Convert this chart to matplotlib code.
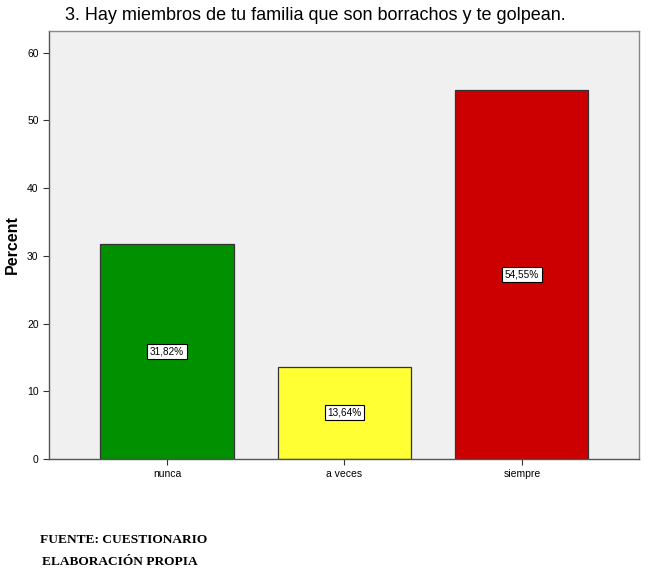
import matplotlib
matplotlib.use("Agg")
import matplotlib.pyplot as plt

categories = ["nunca", "a veces", "siempre"]
values = [31.82, 13.64, 54.55]
labels = ["31,82%", "13,64%", "54,55%"]
colors = ["#009000", "#FFFF33", "#CC0000"]
yticks = [0, 10, 20, 30, 40, 50, 60]

W, H = 650, 579
fig = plt.figure(figsize=(W / 100, H / 100), dpi=100)
ax = fig.add_axes([49 / W, 1 - 459 / H, (639 - 49) / W, (459 - 31) / H])
ax.set_facecolor("#F0F0F0")

x = list(range(len(categories)))
ax.bar(x, values, width=0.75, color=colors, edgecolor="#333333", linewidth=0.9)
for xi, v, lab in zip(x, values, labels):
    ax.text(xi, v / 2, lab, ha="center", va="center", fontsize=7.2,
            family="Liberation Sans",
            bbox=dict(boxstyle="square,pad=0.25", fc="white", ec="black", lw=0.8))

ax.set_xlim(-0.665, 2.66)
ax.set_ylim(0, 63.2)
ax.set_yticks(yticks)
ax.set_xticks(x)
ax.set_xticklabels(categories)
ax.tick_params(axis="both", labelsize=7.5, length=4, width=0.8, color="#333333")
for lab in ax.get_xticklabels() + ax.get_yticklabels():
    lab.set_family("Liberation Sans")
for side in ["top", "right"]:
    ax.spines[side].set_color("#888888")
for side in ["left", "bottom"]:
    ax.spines[side].set_color("#555555")
for s in ax.spines.values():
    s.set_linewidth(1.0)

fig.text(12 / W, 1 - 245 / H, "Percent", rotation=90, ha="center", va="center",
         fontsize=11.5, fontweight="bold", family="Liberation Sans")
fig.text(315 / W, 1 - 15 / H, "3. Hay miembros de tu familia que son borrachos y te golpean.",
         ha="center", va="center", fontsize=13, family="Liberation Sans")
fig.text(40 / W, 1 - 540 / H, "FUENTE: CUESTIONARIO", ha="left", va="center",
         fontsize=9.6, fontweight="bold", family="Liberation Serif")
fig.text(42 / W, 1 - 562 / H, "ELABORACIÓN PROPIA", ha="left", va="center",
         fontsize=9.6, fontweight="bold", family="Liberation Serif")

fig.savefig("out.png", dpi=100)
